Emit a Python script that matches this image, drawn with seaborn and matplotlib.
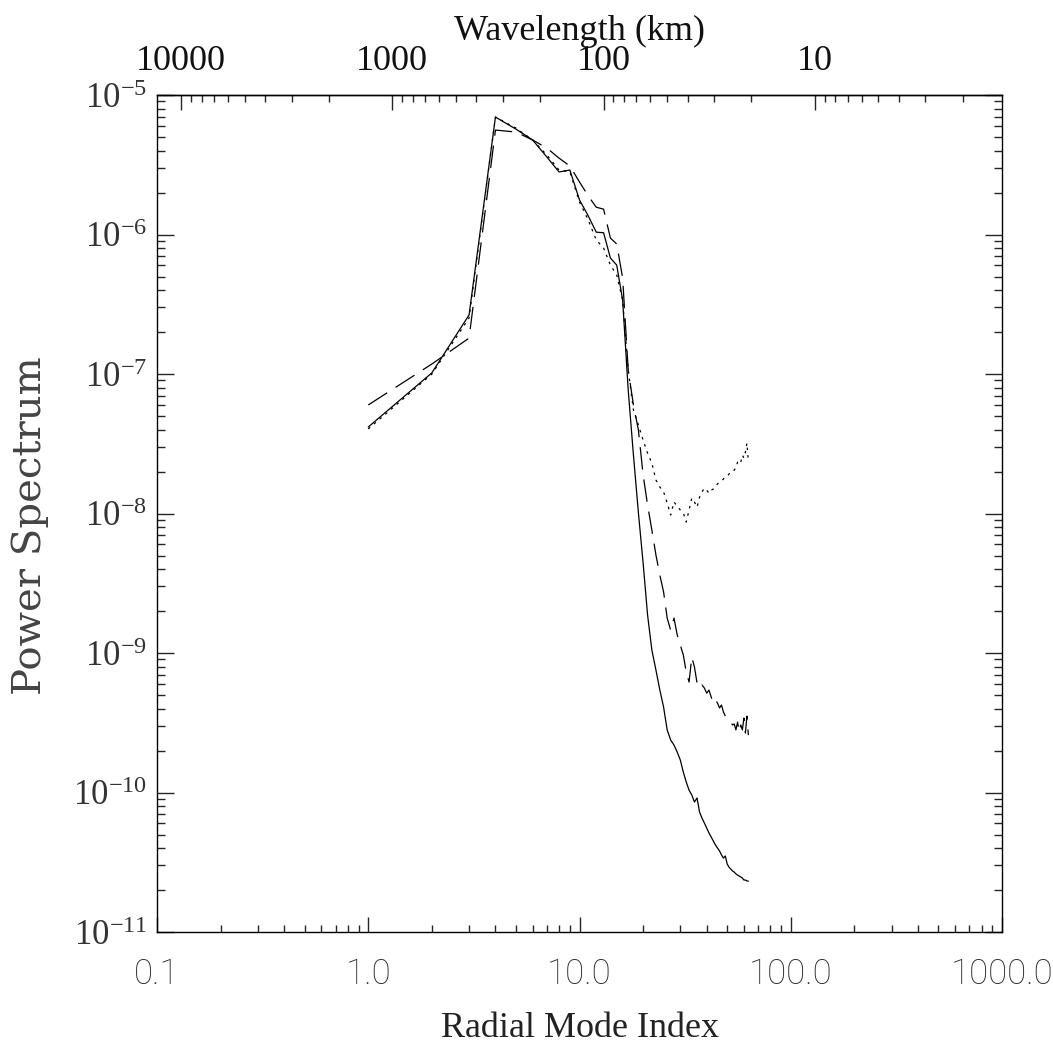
import matplotlib
matplotlib.use("Agg")
import matplotlib.pyplot as plt
from matplotlib.ticker import LogLocator, NullFormatter
import numpy as np
import pandas as pd
import seaborn as sns

# DATA
mode_index = np.arange(1, 64)

power_solid = [4.17e-8, 1.02e-7, 2.65e-7, 6.95e-6, 5.70e-6, 4.76e-6, 3.60e-6, 2.81e-6, 2.90e-6, 1.77e-6,
               1.36e-6, 1.04e-6, 1.03e-6, 6.79e-7, 6.04e-7, 3.39e-7, 7.68e-8, 2.62e-8, 1.01e-8, 4.42e-9,
               1.87e-9, 1.05e-9, 7.55e-10, 5.43e-10, 4.10e-10, 2.81e-10, 2.38e-10, 2.19e-10, 1.95e-10, 1.71e-10,
               1.40e-10, 1.19e-10, 1.04e-10, 9.6e-11, 8.55e-11, 9.14e-11, 7.24e-11, 6.56e-11, 6.04e-11, 5.57e-11,
               5.13e-11, 4.80e-11, 4.49e-11, 4.21e-11, 4.00e-11, 3.81e-11, 3.57e-11, 3.39e-11, 3.51e-11, 3.07e-11,
               2.92e-11, 2.83e-11, 2.74e-11, 2.69e-11, 2.61e-11, 2.56e-11, 2.52e-11, 2.48e-11, 2.44e-11, 2.36e-11,
               2.36e-11, 2.32e-11, 2.32e-11]

power_dashed = [6.00e-8, 1.18e-7, 1.81e-7, 5.61e-6, 5.43e-6, 4.76e-6, 4.17e-6, 3.53e-6, 3.10e-6, 2.38e-6,
                1.89e-6, 1.57e-6, 1.52e-6, 9.44e-7, 8.55e-7, 4.88e-7, 1.07e-7, 6.00e-8, 3.97e-8, 1.89e-8,
                1.15e-8, 7.62e-9, 5.04e-9, 3.62e-9, 2.74e-9, 1.78e-9, 1.46e-9, 1.78e-9, 1.35e-9, 1.14e-9,
                9.68e-10, 7.31e-10, 6.19e-10, 9.35e-10, 7.94e-10, 6.10e-10, 5.61e-10, 5.90e-10, 5.61e-10, 5.16e-10,
                5.43e-10, 4.84e-10, 4.38e-10, 4.60e-10, 4.38e-10, 4.04e-10, 4.24e-10, 3.78e-10, 3.53e-10, 3.37e-10,
                3.31e-10, 3.20e-10, 3.05e-10, 3.10e-10, 2.81e-10, 3.20e-10, 2.72e-10, 3.05e-10, 2.81e-10, 3.42e-10,
                2.67e-10, 3.53e-10, 2.58e-10]

power_dotted = [4.04e-8, 1.00e-7, 2.52e-7, 6.95e-6, 5.80e-6, 4.76e-6, 3.72e-6, 2.90e-6, 2.81e-6, 1.71e-6,
                1.27e-6, 9.14e-7, 8.00e-7, 6.04e-7, 5.13e-7, 3.39e-7, 1.07e-7, 5.52e-8, 4.31e-8, 3.36e-8,
                2.71e-8, 2.30e-8, 1.74e-8, 1.55e-8, 1.43e-8, 1.19e-8, 9.76e-9, 1.21e-8, 1.13e-8, 1.06e-8,
                1.01e-8, 8.69e-9, 1.06e-8, 1.29e-8, 1.21e-8, 1.11e-8, 1.31e-8, 1.43e-8, 1.52e-8, 1.47e-8,
                1.40e-8, 1.47e-8, 1.50e-8, 1.57e-8, 1.63e-8, 1.68e-8, 1.71e-8, 1.77e-8, 1.83e-8, 1.86e-8,
                1.92e-8, 1.97e-8, 1.98e-8, 2.05e-8, 2.12e-8, 2.34e-8, 2.42e-8, 2.34e-8, 2.62e-8, 2.50e-8,
                2.76e-8, 3.20e-8, 2.34e-8]

x_ticks = [0.1, 1.0, 10.0, 100.0, 1000.0]
x_tick_labels = ['0.1', '1.0', '10.0', '100.0', '1000.0']
y_ticks = [1e-11, 1e-10, 1e-9, 1e-8, 1e-7, 1e-6, 1e-5]
y_tick_labels = [r'$10^{-11}$', r'$10^{-10}$', r'$10^{-9}$', r'$10^{-8}$',
                 r'$10^{-7}$', r'$10^{-6}$', r'$10^{-5}$']
wl_ticks = [10000, 1000, 100, 10]
wl_tick_labels = ['10000', '1000', '100', '10']
KM_PER_MODE = 1300.0   # wavelength (km) = KM_PER_MODE / mode index

# LONG FORM TABLE FOR SEABORN
df = pd.concat([
    pd.DataFrame({'mode': mode_index, 'power': power_solid, 'run': 'A'}),
    pd.DataFrame({'mode': mode_index, 'power': power_dashed, 'run': 'B'}),
    pd.DataFrame({'mode': mode_index, 'power': power_dotted, 'run': 'C'}),
], ignore_index=True)

# STYLE
sns.set_style('white')
plt.rcParams['font.family'] = ['Liberation Serif', 'DejaVu Serif']
plt.rcParams['mathtext.fontset'] = 'custom'
plt.rcParams['mathtext.rm'] = 'Liberation Serif'
plt.rcParams['mathtext.it'] = 'Liberation Serif:italic'
plt.rcParams['mathtext.bf'] = 'Liberation Serif:bold'
plt.rcParams['axes.edgecolor'] = 'black'
plt.rcParams['axes.linewidth'] = 1.0

fig = plt.figure(figsize=(10.53, 10.49), dpi=100)
ax = fig.add_axes([0.1491, 0.1115, 0.8025, 0.7979])

sns.lineplot(data=df, x='mode', y='power', style='run',
             dashes={'A': '', 'B': (18, 8), 'C': (2, 4)},
             color='black', linewidth=0.9, legend=False,
             estimator=None, sort=False, ax=ax)

ax.set(xscale='log', yscale='log', xlim=(0.1, 1000), ylim=(1e-11, 1e-5))

# BOTTOM AXIS
ax.set_xticks(x_ticks, labels=x_tick_labels, fontsize=25, color='#2a2a2a',
              fontfamily=['Roboto', 'DejaVu Sans'], fontweight='light')
ax.xaxis.set_minor_locator(LogLocator(base=10, subs=np.arange(2, 10), numticks=100))
ax.xaxis.set_minor_formatter(NullFormatter())
ax.tick_params(axis='x', which='major', direction='in', length=11, width=1,
               pad=18, bottom=True, top=False)
ax.tick_params(axis='x', which='minor', direction='in', length=5, width=1,
               bottom=True, top=False)
ax.set_xlabel('Radial Mode Index', fontsize=26, color='#222222', va='baseline')
ax.xaxis.set_label_coords(0.5, -0.1254)

# LEFT / RIGHT AXIS
ax.set_yticks(y_ticks, labels=y_tick_labels, fontsize=25, color='#333333')
ax.yaxis.set_minor_locator(LogLocator(base=10, subs=np.arange(2, 10), numticks=100))
ax.yaxis.set_minor_formatter(NullFormatter())
ax.tick_params(axis='y', which='major', direction='in', length=12, width=1,
               pad=7, left=True, right=True)
ax.tick_params(axis='y', which='minor', direction='in', length=6, width=1,
               left=True, right=True)
ax.set_ylabel('Power Spectrum', fontsize=29, color='#444444',
              fontfamily='DejaVu Serif', va='center')
ax.yaxis.set_label_coords(-0.150, 0.486)

# TOP AXIS: WAVELENGTH
def mode_to_km(n):
    return KM_PER_MODE / np.asarray(n, dtype=float)

secax = ax.secondary_xaxis('top', functions=(mode_to_km, mode_to_km))
secax.set_xticks(wl_ticks, labels=wl_tick_labels, fontsize=26, color='#111111')
secax.xaxis.set_minor_locator(LogLocator(base=10, subs=np.arange(2, 10), numticks=100))
secax.xaxis.set_minor_formatter(NullFormatter())
secax.tick_params(which='major', direction='in', length=11, width=1, pad=12)
secax.tick_params(which='minor', direction='in', length=5, width=1)
secax.set_xlabel('Wavelength (km)', fontsize=26, color='#111111', va='baseline')
secax.xaxis.set_label_coords(0.5, 1.0657, transform=ax.transAxes)

for side in ['top', 'bottom', 'left', 'right']:
    ax.spines[side].set_visible(True)
    ax.spines[side].set_color('black')

fig.savefig('out.png', dpi=100)
